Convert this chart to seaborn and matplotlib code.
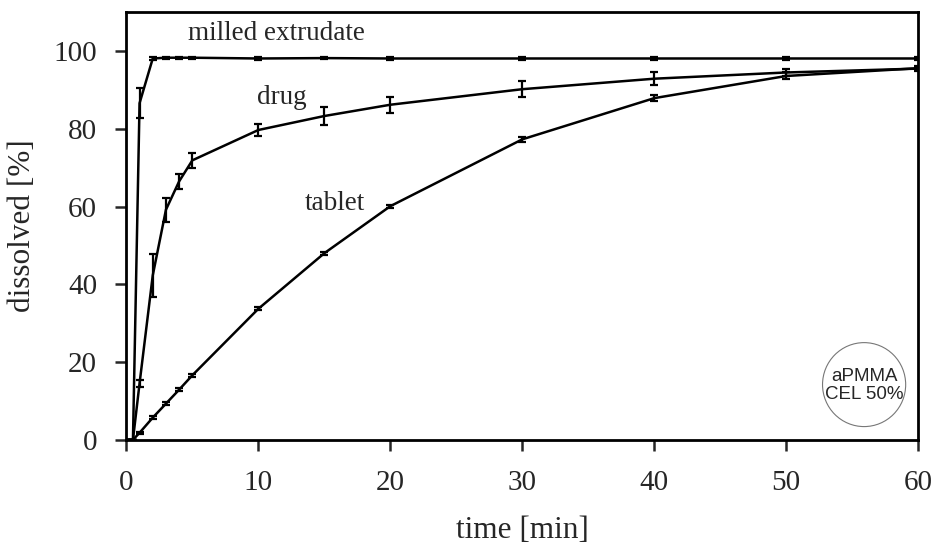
import matplotlib
matplotlib.use('Agg')
import matplotlib.pyplot as plt
import pandas as pd
import seaborn as sns
from matplotlib.patches import Ellipse

# sampling times [min]
time = [0, 0.5, 1, 2, 3, 4, 5, 10, 15, 20, 30, 40, 50, 60]

# mean dissolved [%] and error (SD) per formulation
milled = [0, 0, 86.6, 98.1, 98.3, 98.3, 98.3, 98.1, 98.2, 98.1, 98.1, 98.1, 98.1, 98.1]
milled_err = [0, 0, 3.8, 0.3, 0.3, 0.3, 0.3, 0.3, 0.3, 0.3, 0.3, 0.3, 0.3, 0.3]

drug = [0, 0, 14.5, 42.3, 59.2, 66.5, 71.9, 79.7, 83.3, 86.2, 90.2, 92.9, 94.5, 95.5]
drug_err = [0, 0, 1.0, 5.6, 3.1, 2.0, 1.9, 1.6, 2.2, 2.1, 2.1, 1.7, 1.0, 0.5]

tablet = [0, 0, 1.8, 5.7, 9.3, 12.9, 16.6, 33.7, 48.0, 60.1, 77.3, 87.9, 93.6, 95.6]
tablet_err = [0, 0, 0.3, 0.4, 0.4, 0.4, 0.4, 0.4, 0.4, 0.4, 0.6, 0.8, 0.9, 0.5]

series = {
    'milled extrudate': (milled, milled_err),
    'drug': (drug, drug_err),
    'tablet': (tablet, tablet_err),
}

rows = []
for name, (vals, errs) in series.items():
    for t, v, e in zip(time, vals, errs):
        rows.append({'time': t, 'dissolved': v, 'err': e, 'sample': name})
df = pd.DataFrame(rows)

sns.set_theme(style='white')
plt.rcParams['font.family'] = ['Liberation Serif', 'DejaVu Serif']

fig, ax = plt.subplots(figsize=(9.36, 5.56), dpi=100)
fig.subplots_adjust(left=0.135, right=0.981, top=0.978, bottom=0.209)

sns.lineplot(data=df, x='time', y='dissolved', hue='sample', units='sample',
             estimator=None, palette=['black'] * 3, linewidth=1.8,
             legend=False, ax=ax)

for name, grp in df.groupby('sample'):
    ax.errorbar(grp['time'], grp['dissolved'], yerr=grp['err'], fmt='none',
                ecolor='black', elinewidth=1.6, capsize=3, capthick=1.6)

# curve labels
ax.text(4.7, 102.8, 'milled extrudate', fontsize=19.5, va='baseline')
ax.text(9.9, 86.3, 'drug', fontsize=19.5, va='baseline')
ax.text(13.5, 59.2, 'tablet', fontsize=19.5, va='baseline')

# formulation badge
ax.add_patch(Ellipse((55.9, 14.2), 6.3, 21.6, facecolor='white',
                     edgecolor='#777777', linewidth=0.8))
ax.text(55.9, 14.0, 'aPMMA\nCEL 50%', ha='center', va='center', fontsize=13.5,
        family=['Liberation Sans', 'DejaVu Sans'], linespacing=1.05)

ax.set_xlim(0, 60)
ax.set_ylim(0, 110)
ax.set_xticks(range(0, 61, 10))
ax.set_yticks(range(0, 101, 20))
ax.tick_params(axis='both', direction='out', length=8, width=1.8,
               labelsize=21, bottom=True, left=True)
ax.tick_params(axis='x', pad=14)
ax.tick_params(axis='y', pad=13)
for sp in ax.spines.values():
    sp.set_color('black')
    sp.set_linewidth(2)

ax.set_xlabel('time [min]', fontsize=22.5, labelpad=14)
ax.set_ylabel('dissolved [%]', fontsize=22.5, labelpad=12)

fig.savefig('out.png', dpi=100)
